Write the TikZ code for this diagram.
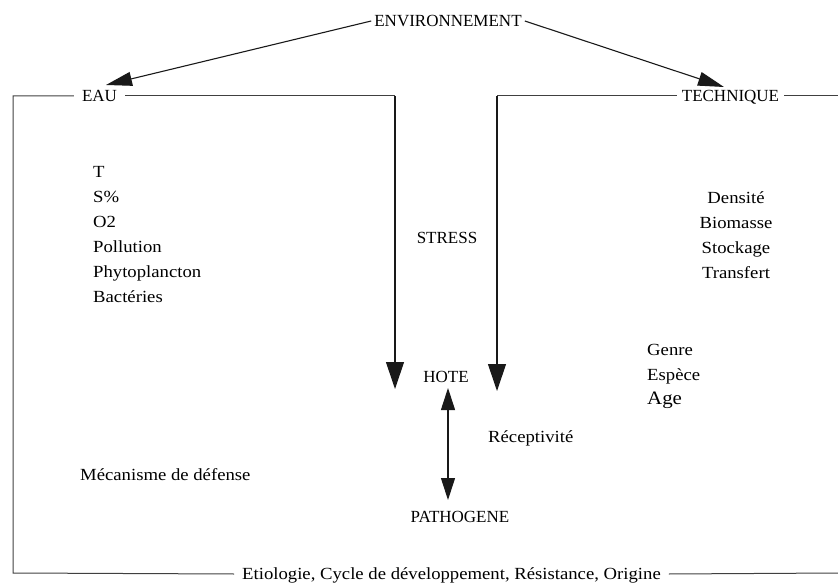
\documentclass[tikz,border=0pt]{standalone}
\usepackage{fontspec}
\setmainfont{Liberation Serif}
\newfontfamily\widefont[FakeStretch=1.1]{Liberation Serif}
\usetikzlibrary{arrows.meta}
\begin{document}
\begin{tikzpicture}[x=1pt,y=-1pt,
  caps/.style={font=\fontsize{17}{20}\selectfont, inner xsep=0pt, inner ysep=0pt, text height=11.5pt, text depth=0pt, anchor=center},
  txt/.style={font=\widefont\fontsize{17}{20}\selectfont, inner sep=0pt, text height=11.5pt, text depth=0pt},
  ln/.style={draw=black!75, line width=1pt},
  arr/.style={draw=black!90, line width=1.1pt, -{Triangle[length=26pt,width=14pt]}},
  varr/.style={draw=black!90, line width=1.1pt, -{Triangle[length=27pt,width=18pt]}},
  dbl/.style={draw=black!90, line width=1.1pt, {Triangle[length=22pt,width=14pt]}-{Triangle[length=22pt,width=14pt]}},
]
\useasboundingbox (0,0) rectangle (838,585);

% main labels
\node[caps, inner xsep=3pt] (env) at (448,21) {ENVIRONNEMENT};
\node[caps, inner xsep=8pt] (eau) at (99.5,96) {EAU};
\node[caps, inner xsep=5pt] (tech) at (730.5,96) {TECHNIQUE};
\node[caps] (stress) at (447,238) {STRESS};
\node[caps] (hote) at (446,377) {HOTE};
\node[caps] (patho) at (460,517) {PATHOGENE};
\node[txt, inner xsep=8pt, anchor=center] (bot) at (451.5,574) {Etiologie, Cycle de développement, Résistance, Origine};

% water parameters
\node[txt, anchor=west] (t1) at (93,172) {T};
\node[txt, anchor=west] (t2) at (93,197) {S\%};
\node[txt, anchor=west] (t3) at (93,222) {O2};
\node[txt, anchor=west] (t4) at (93,247) {Pollution};
\node[txt, anchor=west] (t5) at (93,272) {Phytoplancton};
\node[txt, anchor=west] (t6) at (93,297) {Bactéries};

% technique parameters
\node[txt] (r1) at (736,198) {Densité};
\node[txt] (r2) at (736,223) {Biomasse};
\node[txt] (r3) at (736,248) {Stockage};
\node[txt] (r4) at (736,273) {Transfert};

% host parameters
\node[txt, anchor=west] (g1) at (647,350) {Genre};
\node[txt, anchor=west] (g2) at (647,375) {Espèce};
\node[txt, anchor=west, font=\widefont\fontsize{19}{22}\selectfont] (g3) at (647,399) {Age};

\node[txt, anchor=west] (rec) at (488,437) {Réceptivité};
\node[txt, anchor=west] (meca) at (80,475) {Mécanisme de défense};

% coordinates
\coordinate (eauTip) at (106,85);
\coordinate (techTip) at (724,87);
\coordinate (cTL) at (13,96);
\coordinate (cBL) at (13,573);
\coordinate (cEauR) at (395,96);
\coordinate (hoteInL) at (395,389);
\coordinate (cTechL) at (497,96);
\coordinate (hoteInR) at (497,391);
\coordinate (edgeT) at (838,96);
\coordinate (edgeB) at (838,573);
\coordinate (hb) at (448,388);
\coordinate (pt) at (448,500);

% arrows from environment
\draw[arr] (env.west) -- (eauTip);
\draw[arr] (env.east) -- (techTip);

% brackets
\draw[ln] (eau.west) -- (cTL) -- (cBL) -- (bot.west);
\draw[ln] (bot.east) -- (edgeB);
\draw[ln] (tech.east) -- (edgeT);
\draw[ln] (eau.east) -- (cEauR);
\draw[varr] (cEauR) -- (hoteInL);
\draw[ln] (tech.west) -- (cTechL);
\draw[varr] (cTechL) -- (hoteInR);

% host - pathogen
\draw[dbl] (hb) -- (pt);
\end{tikzpicture}
\end{document}
